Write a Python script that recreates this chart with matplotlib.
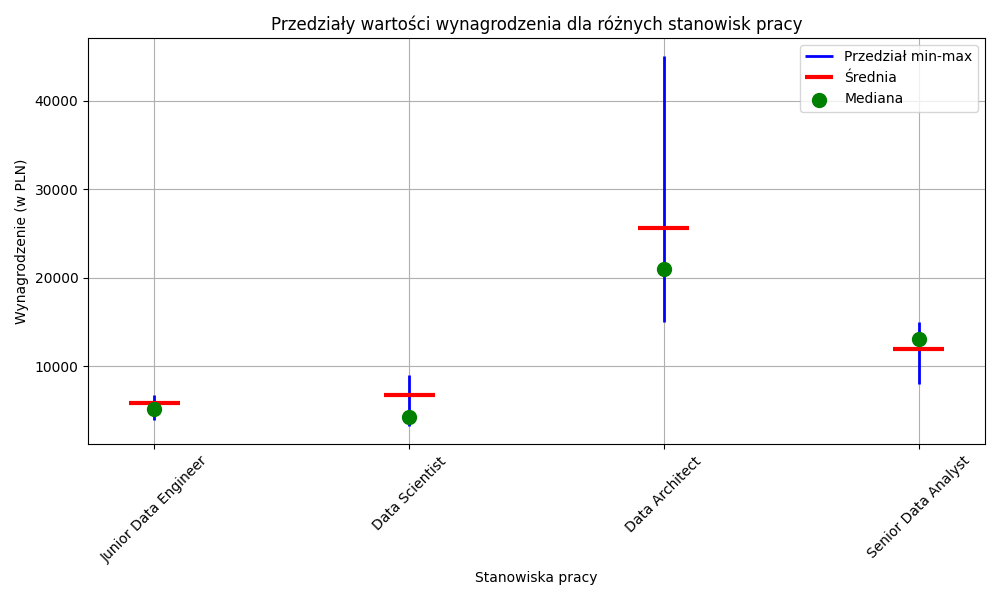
import matplotlib
matplotlib.use("Agg")
import matplotlib.pyplot as plt

stanowiska = ["Junior Data Engineer", "Data Scientist", "Data Architect", "Senior Data Analyst"]
minimum = [4000, 3300, 15000, 8000]
maksimum = [6800, 9000, 45000, 15000]
srednia = [5850, 6750, 25600, 12000]
mediana = [5200, 4250, 21000, 13100]

fig, ax = plt.subplots(figsize=(10, 6))
x = list(range(len(stanowiska)))
for i in x:
    ax.vlines(i, minimum[i], maksimum[i], color="blue", linewidth=2,
              label="Przedział min-max" if i == 0 else None)
    ax.hlines(srednia[i], i - 0.1, i + 0.1, color="red", linewidth=3,
              label="Średnia" if i == 0 else None)
ax.scatter(x, mediana, color="green", s=100, zorder=3, label="Mediana")
ax.set_xticks(x)
ax.set_xticklabels(stanowiska, rotation=45)
ax.set_title("Przedziały wartości wynagrodzenia dla różnych stanowisk pracy")
ax.set_xlabel("Stanowiska pracy")
ax.set_ylabel("Wynagrodzenie (w PLN)")
ax.grid(True)
ax.legend(loc="upper right")
fig.tight_layout()
fig.savefig("out.png", dpi=100)
